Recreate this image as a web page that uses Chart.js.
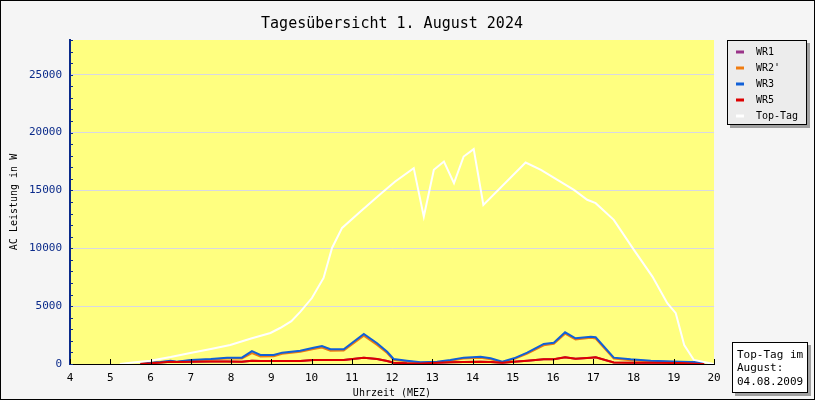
<!DOCTYPE html>
<html>
<head>
<meta charset="utf-8">
<script src="https://cdn.jsdelivr.net/npm/chart.js@4"></script>
<style>
  body { margin: 0; background: #f5f5f5; }
  canvas { display: block; }
</style>
</head>
<body>
<canvas id="tagChart" width="815" height="400"></canvas>
<script>
// Uhrzeit (Stunden) der Messpunkte der Wechselrichter
const zeitWR = [5.75, 6.0, 6.25, 6.5, 6.65, 7.0, 7.5, 7.9, 8.27, 8.52, 8.73, 9.06, 9.27, 9.72, 10.05, 10.26, 10.47, 10.8, 11.3, 11.63, 11.88, 12.04, 12.37, 12.71, 13.12, 13.45, 13.78, 14.2, 14.45, 14.74, 15.03, 15.36, 15.77, 16.02, 16.3, 16.56, 16.94, 17.06, 17.51, 17.93, 18.43, 19.17, 19.67, 19.75];
const wr1 = [30, 60, 120, 200, 180, 200, 210, 210, 200, 290, 250, 250, 250, 260, 350, 350, 350, 350, 550, 430, 260, 110, 60, 40, 110, 150, 180, 200, 170, 100, 200, 290, 410, 410, 580, 460, 550, 580, 130, 110, 100, 170, 180, 0];
const wr2 = [0, 80, 150, 240, 170, 300, 380, 480, 480, 950, 650, 680, 880, 1050, 1300, 1420, 1150, 1170, 2450, 1650, 950, 350, 230, 110, 150, 280, 470, 540, 400, 150, 420, 900, 1620, 1740, 2620, 2120, 2260, 2200, 470, 330, 230, 150, 100, 0];
const wr3 = [0, 100, 180, 290, 200, 350, 430, 550, 550, 1120, 780, 780, 980, 1150, 1410, 1560, 1270, 1270, 2590, 1790, 1060, 430, 290, 150, 200, 350, 550, 630, 490, 200, 490, 980, 1730, 1840, 2740, 2220, 2360, 2310, 550, 410, 290, 200, 150, 0];
const wr5 = [30, 60, 120, 200, 180, 200, 210, 210, 200, 290, 250, 250, 250, 260, 350, 350, 350, 350, 550, 430, 260, 110, 60, 40, 110, 150, 180, 200, 170, 100, 200, 290, 410, 410, 580, 460, 550, 580, 130, 110, 100, 80, 0, 0];

// Top-Tag im August (04.08.2009)
const zeitTop = [5.24, 5.5, 5.99, 6.5, 6.99, 7.5, 7.98, 8.5, 8.98, 9.22, 9.5, 9.72, 10.01, 10.3, 10.51, 10.76, 11.21, 11.75, 12.08, 12.54, 12.79, 13.04, 13.29, 13.54, 13.78, 14.03, 14.27, 15.32, 15.7, 16.11, 16.52, 16.85, 17.06, 17.51, 18.01, 18.47, 18.84, 19.05, 19.26, 19.5, 19.99];
const topTag = [0, 100, 285, 600, 950, 1300, 1640, 2200, 2680, 3110, 3700, 4500, 5700, 7440, 10030, 11760, 13150, 14790, 15770, 16930, 12740, 16780, 17500, 15630, 17930, 18570, 13750, 17410, 16780, 15920, 15050, 14190, 13900, 12460, 9860, 7550, 5250, 4390, 1640, 350, 0];

const serienNamen = ["WR1", "WR2'", "WR3", "WR5", "Top-Tag"];
const serienFarben = ['#993388', '#f07c10', '#1060d8', '#dd0000', '#ffffff'];
const xTicks = [4, 20];
const yTicks = [0, 28000];

const mono = '"DejaVu Sans Mono", "Liberation Mono", monospace';

function punkte(zeit, werte) {
    return zeit.map((t, i) => ({ x: t, y: werte[i] }));
}

const serien = [
    punkte(zeitWR, wr1),
    punkte(zeitWR, wr2),
    punkte(zeitWR, wr3),
    punkte(zeitWR, wr5),
    punkte(zeitTop, topTag)
];
// Reihenfolge: WR5 oben, dann WR3, WR2', WR1
const zeichenOrder = [4, 3, 2, 1, 0];

const deko = {
    id: 'deko',
    beforeDraw(chart) {
        const c = chart.ctx, a = chart.chartArea;
        c.save();
        c.fillStyle = '#f5f5f5';
        c.fillRect(0, 0, chart.width, chart.height);
        c.fillStyle = '#ffff80';
        c.fillRect(a.left, a.top, a.right - a.left, a.bottom - a.top);
        c.restore();
    },
    afterDraw(chart) {
        const c = chart.ctx, a = chart.chartArea;
        const xs = chart.scales.x, ys = chart.scales.y;
        c.save();

        // Achsenstriche nach innen
        c.strokeStyle = '#0a2a8a';
        c.lineWidth = 1;
        for (let v = 0; v <= 28000; v += 1000) {
            const y = Math.round(ys.getPixelForValue(v)) + 0.5;
            c.beginPath(); c.moveTo(a.left, y); c.lineTo(a.left + 3, y); c.stroke();
        }
        c.strokeStyle = '#000';
        for (let h = 4; h <= 20; h++) {
            const x = Math.round(xs.getPixelForValue(h)) + 0.5;
            c.beginPath(); c.moveTo(x, a.bottom); c.lineTo(x, a.bottom - 5); c.stroke();
        }

        // Titel
        c.fillStyle = '#000';
        c.font = '15px ' + mono;
        c.textAlign = 'center';
        c.textBaseline = 'middle';
        c.fillText('Tagesübersicht 1. August 2024', (a.left + a.right) / 2, 24);

        // Achsentitel
        c.font = '10px ' + mono;
        c.fillText('Uhrzeit (MEZ)', (a.left + a.right) / 2, 393);
        c.save();
        c.translate(14, (a.top + a.bottom) / 2);
        c.rotate(-Math.PI / 2);
        c.fillText('AC Leistung in W', 0, 0);
        c.restore();

        // Legende
        c.fillStyle = '#a0a0a0';
        c.fillRect(730, 43, 80, 85);
        c.fillStyle = '#ececec';
        c.fillRect(727, 40, 80, 85);
        c.strokeStyle = '#000';
        c.strokeRect(727.5, 40.5, 79, 84);
        c.textAlign = 'left';
        c.font = '10px ' + mono;
        serienNamen.forEach((name, i) => {
            const y = 52 + i * 16;
            c.strokeStyle = serienFarben[i];
            c.lineWidth = 3;
            c.beginPath(); c.moveTo(736, y); c.lineTo(744, y); c.stroke();
            c.fillStyle = '#000';
            c.fillText(name, 756, y);
        });

        // Info-Box
        c.lineWidth = 1;
        c.fillStyle = '#a0a0a0';
        c.fillRect(735, 345, 76, 51);
        c.fillStyle = '#ffffff';
        c.fillRect(732, 342, 76, 51);
        c.strokeStyle = '#000';
        c.strokeRect(732.5, 342.5, 75, 50);
        c.fillStyle = '#000';
        c.font = '11px ' + mono;
        ['Top-Tag im', 'August:', '04.08.2009'].forEach((z, i) => c.fillText(z, 737, 355 + i * 13.5));

        // Rahmen
        c.strokeStyle = '#000';
        c.strokeRect(0.5, 0.5, chart.width - 1, chart.height - 1);
        c.restore();
    }
};

const ctx = document.getElementById('tagChart').getContext('2d');
const tagChart = new Chart(ctx, {
    type: 'line',
    data: {
        datasets: serien.map((daten, i) => ({
            label: serienNamen[i],
            data: daten,
            borderColor: serienFarben[i],
            borderWidth: 2,
            pointRadius: 0,
            tension: 0,
            fill: false,
            order: zeichenOrder[i]
        }))
    },
    plugins: [deko],
    options: {
        responsive: false,
        animation: false,
        devicePixelRatio: 1,
        layout: { padding: { top: 40, right: 101, left: 0, bottom: 0 } },
        plugins: {
            legend: { display: false },
            title: { display: false },
            tooltip: { enabled: false }
        },
        scales: {
            x: {
                type: 'linear',
                min: xTicks[0],
                max: xTicks[1],
                afterFit: s => { s.height = 36; },
                ticks: {
                    stepSize: 1,
                    padding: 8,
                    maxRotation: 0,
                    autoSkip: false,
                    color: '#000',
                    font: { family: mono, size: 11 }
                },
                grid: { display: false, drawTicks: false },
                border: { color: '#000', width: 1 }
            },
            y: {
                min: yTicks[0],
                max: yTicks[1],
                afterFit: s => { s.width = 70; },
                ticks: {
                    stepSize: 1000,
                    padding: 8,
                    autoSkip: false,
                    color: '#0a2a8a',
                    font: { family: mono, size: 11 },
                    callback: v => (v % 5000 === 0 ? v : '')
                },
                grid: {
                    drawTicks: false,
                    lineWidth: 1,
                    color: c => (c.tick && c.tick.value > 0 && c.tick.value % 5000 === 0 ? '#d8d8e4' : 'rgba(0,0,0,0)')
                },
                border: { color: '#0a2a8a', width: 2 }
            }
        }
    }
});
</script>
</body>
</html>
